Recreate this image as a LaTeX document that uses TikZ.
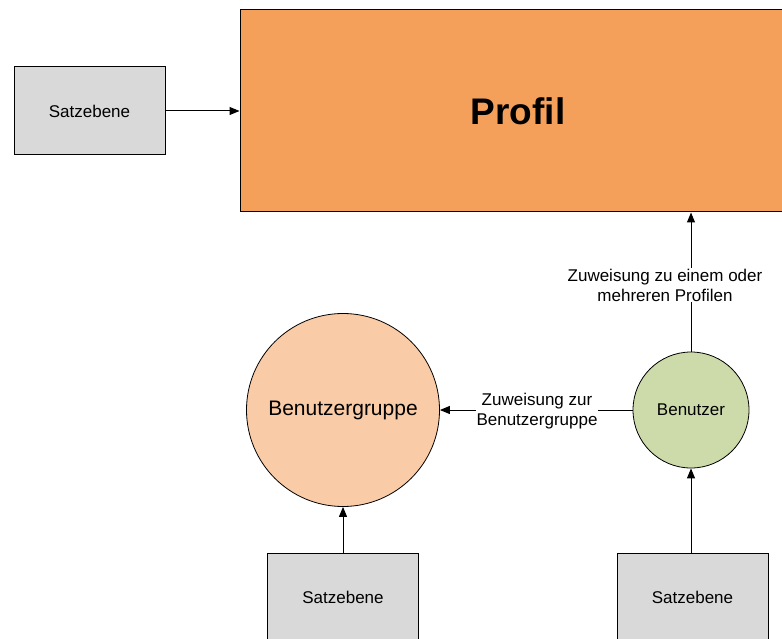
\documentclass[tikz,border=0pt]{standalone}
\usepackage{fontspec}
\setmainfont{Liberation Sans}
\usetikzlibrary{arrows.meta}
\definecolor{profilorange}{RGB}{244,160,90}
\definecolor{ebenegrau}{RGB}{217,217,217}
\definecolor{gruppeorange}{RGB}{249,203,166}
\definecolor{benutzergruen}{RGB}{205,219,170}
\tikzset{
  ebene/.style={draw, fill=ebenegrau, line width=1pt, minimum width=151, minimum height=88,
    font=\fontsize{17}{20}\selectfont},
  rolle/.style={draw, circle, line width=0.8pt, inner sep=0pt},
  pfeil/.style={line width=1pt, -{Triangle[length=10pt,width=8pt]}},
  zuweisung/.style={fill=white, align=center, inner sep=1pt, font=\fontsize{17}{20}\selectfont}
}
\begin{document}
\begin{tikzpicture}[x=1pt,y=-1pt]
        \useasboundingbox (0,0) rectangle (782,639);
        \clip (0,0) rectangle (782,639);
        \node[draw, fill=profilorange, line width=1pt, minimum width=556, minimum height=202,
              font=\fontsize{37}{40}\selectfont\bfseries] (profil) at (518,111) {Profil};
        \node[ebene] (satzoben) at (89.5,111) {Satzebene};
        \node[ebene] (satzlinks) at (343,597) {Satzebene};
        \node[ebene] (satzrechts) at (692.5,597) {Satzebene};
        \node[rolle, fill=gruppeorange, minimum size=193,
              font=\fontsize{21}{24}\selectfont] (gruppe) at (343,410) {Benutzergruppe};
        \node[rolle, fill=benutzergruen, minimum size=116,
              font=\fontsize{17}{20}\selectfont] (benutzer) at (691,410) {Benutzer};
        % Verbindungen
        \draw[pfeil] (satzoben) -- (profil.west |- satzoben);
        \draw[pfeil] (benutzer.north) -- (benutzer.north |- profil.south);
        \draw[pfeil] (benutzer.west) -- (gruppe.east);
        \draw[pfeil] (satzlinks.north) -- (gruppe.south);
        \draw[pfeil] (satzrechts.north -| benutzer) -- (benutzer.south);
        \node[zuweisung] (zuprofil) at (665,285) {Zuweisung zu einem oder\\mehreren Profilen};
        \node[zuweisung] (zugruppe) at (537,411) {Zuweisung zur\\Benutzergruppe};
      \end{tikzpicture}
\end{document}
